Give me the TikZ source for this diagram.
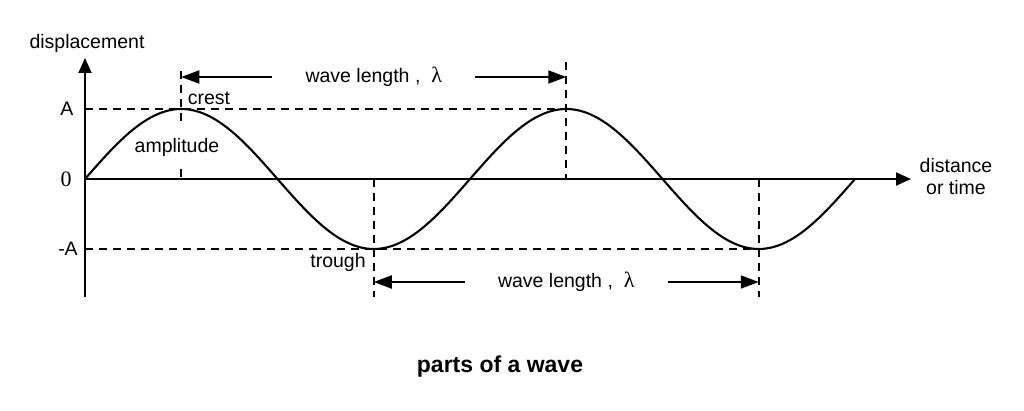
\documentclass[tikz,border=0pt]{standalone}
\usepackage{fontspec}
\setmainfont{Liberation Sans}
\newfontfamily\serifnum{Liberation Serif}
\usetikzlibrary{arrows.meta, positioning}

\begin{document}
\begin{tikzpicture}[x=1pt, y=1pt,
        lbl/.style={inner sep=0pt, font=\fontsize{19.5}{22}\selectfont},
        wavelbl/.style={lbl, inner xsep=33pt},
        axisline/.style={line width=1.9pt, -{Triangle[length=15pt, width=13pt]}},
        guide/.style={line width=1.7pt, dash pattern=on 8pt off 6pt},
        wlarrow/.style={line width=1.9pt, -{Triangle[length=18pt, width=13pt]}}]
        \useasboundingbox (0,0) rectangle (1024,410);
        \begin{scope}[xshift=0cm]
            \coordinate (O) at (85,231);
            \coordinate (ybot) at (85,113);
            \coordinate (ytop) at (85,352);
            \coordinate (xend) at (911,231);
            \coordinate (Aleft) at (85,301);
            \coordinate (mAleft) at (85,161);
            \coordinate (c1) at (181.25,301);
            \coordinate (c2) at (566.25,301);
            \coordinate (t1) at (373.75,161);
            \coordinate (t2) at (758.75,161);
            \coordinate (c1top) at (181.25,339);
            \coordinate (c1axis) at (181.25,231);
            \coordinate (c2top) at (566.25,348);
            \coordinate (c2axis) at (566.25,231);
            \coordinate (t1axis) at (373.75,231);
            \coordinate (t1bot) at (373.75,113);
            \coordinate (t2axis) at (758.75,231);
            \coordinate (t2bot) at (758.75,113);
            \coordinate (wlL) at (181.25,333);
            \coordinate (wlR) at (566.25,333);
            \coordinate (wlL2) at (373.75,128);
            \coordinate (wlR2) at (758.75,128);

            \draw[axisline] (ybot) -- (ytop);
            \draw[axisline] (O) -- (xend);
            \draw[guide] (Aleft) -- (c2);
            \draw[guide] (mAleft) -- (t2);
            \draw[guide] (c1top) -- (c1axis);
            \draw[guide] (c2top) -- (c2axis);
            \draw[guide] (t1axis) -- (t1bot);
            \draw[guide] (t2axis) -- (t2bot);
            \node[lbl, fill=white, inner ysep=11pt, inner xsep=2pt] (ampl) at (177,263) {amplitude};
            \draw[line width=2.1pt] (O) sin (c1) cos (277.5,231) sin (t1) cos (470,231)
                sin (c2) cos (662.5,231) sin (t2) cos (855,231);

            \node[wavelbl] (wl1) at (373.75,333) {wave length ,\ \ {\serifnum\fontsize{22}{22}\selectfont λ}};
            \node[wavelbl] (wl2) at (566.25,128) {wave length ,\ \ {\serifnum\fontsize{22}{22}\selectfont λ}};
            \draw[wlarrow] (wl1.west) -- (wlL);
            \draw[wlarrow] (wl1.east) -- (wlR);
            \draw[wlarrow] (wl2.west) -- (wlL2);
            \draw[wlarrow] (wl2.east) -- (wlR2);

            \node[lbl] (disp) at (87,367) {displacement};
            \node[lbl] (Alab) at (67,301) {A};
            \node[lbl] (zero) at (66,231) {\serifnum\fontsize{22}{22}\selectfont 0};
            \node[lbl] (mAlab) at (68,161) {-A};
            \node[lbl] (crest) at (209,312) {crest};
            \node[lbl] (trough) at (338,148) {trough};
            \node[lbl, align=center] (dist) at (956,233) {distance\\or time};
            \node[inner sep=0pt, font=\fontsize{23}{26}\selectfont\bfseries] (title) at (500,43) {parts of a wave};
        \end{scope}
    \end{tikzpicture}
\end{document}
